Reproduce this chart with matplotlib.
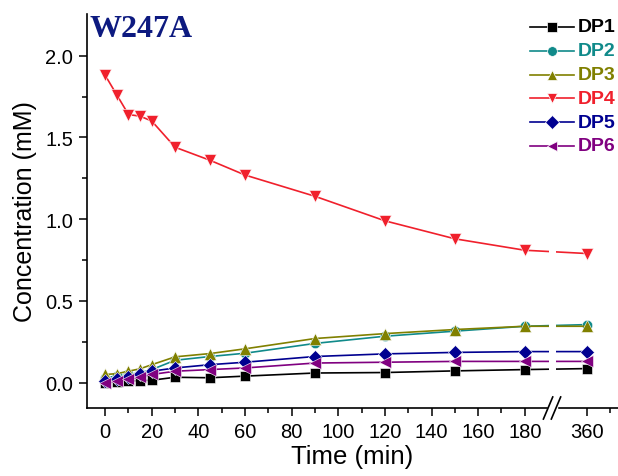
import numpy as np
import matplotlib
matplotlib.use('Agg')
import matplotlib.pyplot as plt
from matplotlib.lines import Line2D
from matplotlib.ticker import FixedLocator

plt.rcParams['font.family'] = ['Liberation Sans', 'DejaVu Sans']

# sampling times (min)
times = [0, 5, 10, 15, 20, 30, 45, 60, 90, 120, 150, 180, 360]

dp1 = [0.00, 0.005, 0.01, 0.012, 0.015, 0.033, 0.03, 0.04, 0.059, 0.062, 0.072, 0.08, 0.086]
dp2 = [0.03, 0.04, 0.05, 0.06, 0.08, 0.137, 0.16, 0.18, 0.24, 0.284, 0.315, 0.345, 0.355]
dp3 = [0.05, 0.055, 0.07, 0.085, 0.11, 0.158, 0.178, 0.207, 0.27, 0.30, 0.325, 0.345, 0.345]
dp4 = [1.88, 1.76, 1.64, 1.63, 1.60, 1.44, 1.36, 1.27, 1.14, 0.99, 0.88, 0.81, 0.79]
dp5 = [0.01, 0.02, 0.035, 0.05, 0.07, 0.09, 0.11, 0.125, 0.16, 0.176, 0.185, 0.19, 0.19]
dp6 = [0.0, 0.01, 0.02, 0.035, 0.05, 0.07, 0.08, 0.09, 0.12, 0.125, 0.13, 0.13, 0.13]

labels = ['DP1', 'DP2', 'DP3', 'DP4', 'DP5', 'DP6']
colors = ['#000000', '#108a8a', '#808000', '#f0202c', '#000090', '#800080']
markers = ['s', 'o', '^', 'v', 'D', '<']
msizes = [7, 7.5, 9, 9, 7, 9]

major_ticks = [0, 20, 40, 60, 80, 100, 120, 140, 160, 180, 360]

W, H = 618, 477


def to_axis(t):
    # broken x axis: 180 -> 360 squeezed into a short stretch
    t = np.asarray(t, dtype=float)
    return np.where(t <= 180, t, 180 + 26.5 * (t - 180) / 180)


fig = plt.figure(figsize=(W / 100, H / 100), dpi=100)
ax = fig.add_axes([87 / W, 68 / H, 531 / W, 394 / H])

xs = to_axis(times)
for ys, c, m, ms in zip([dp1, dp2, dp3, dp4, dp5, dp6], colors, markers, msizes):
    ax.plot(xs, ys, color=c, marker=m, markersize=ms, lw=1.2,
            markeredgecolor='white', markeredgewidth=0.4, clip_on=False)

# gap in the data lines at the axis break
ax.axvspan(190.4, 193.6, ymin=0.01, ymax=1, color='white', zorder=2.2, lw=0)

ax.set_xlim(-7.8, 220)
ax.set_ylim(-0.155, 2.255)

ax.xaxis.set_major_locator(FixedLocator(to_axis(major_ticks)))
ax.set_xticklabels([str(t) for t in major_ticks])
ax.xaxis.set_minor_locator(FixedLocator(list(range(10, 180, 20)) + [216.5]))
ax.set_yticks([0.0, 0.5, 1.0, 1.5, 2.0])
ax.set_yticklabels(['0.0', '0.5', '1.0', '1.5', '2.0'])
ax.yaxis.set_minor_locator(FixedLocator([0.25, 0.75, 1.25, 1.75]))

ax.spines['top'].set_visible(False)
ax.spines['right'].set_visible(False)
for s in ['left', 'bottom']:
    ax.spines[s].set_linewidth(1.2)
ax.tick_params(which='major', direction='out', length=6, width=1.1, labelsize=14.5, pad=4)
ax.tick_params(which='minor', direction='out', length=3.5, width=1.1)

# break marks on the x axis
trans = ax.get_xaxis_transform()
ax.fill_between([190.0, 194.0], -0.03, 0.03, color='white', transform=trans,
                zorder=3, clip_on=False)
for x0 in (190.0, 193.4):
    ax.plot([x0 - 2.0, x0 + 2.0], [-0.028, 0.028], color='black', lw=1.2,
            transform=trans, clip_on=False, zorder=4)

ax.set_xlabel('Time (min)', fontsize=18.5, labelpad=2)
ax.set_ylabel('Concentration (mM)', fontsize=18, labelpad=6)

fig.text(90 / W, 1 - 37 / H, 'W247A', fontsize=23, fontweight='bold',
         family='Liberation Serif', color='#0d1a80', va='baseline', ha='left')

# legend drawn by hand: line - marker - line, then coloured label
for i, (lab, c, m) in enumerate(zip(labels, colors, markers)):
    yy = 1 - (28 + 23.8 * i) / H
    fig.add_artist(Line2D([530 / W, 574 / W], [yy, yy], color=c, lw=1.2,
                          transform=fig.transFigure))
    fig.add_artist(Line2D([552 / W], [yy], color=c, marker=m, markersize=7,
                          markeredgecolor='white', markeredgewidth=0.5,
                          transform=fig.transFigure))
    fig.text(578 / W, yy, lab, color=c, fontsize=14, fontweight='bold',
             va='center', ha='left')

fig.savefig('out.png', dpi=100)
